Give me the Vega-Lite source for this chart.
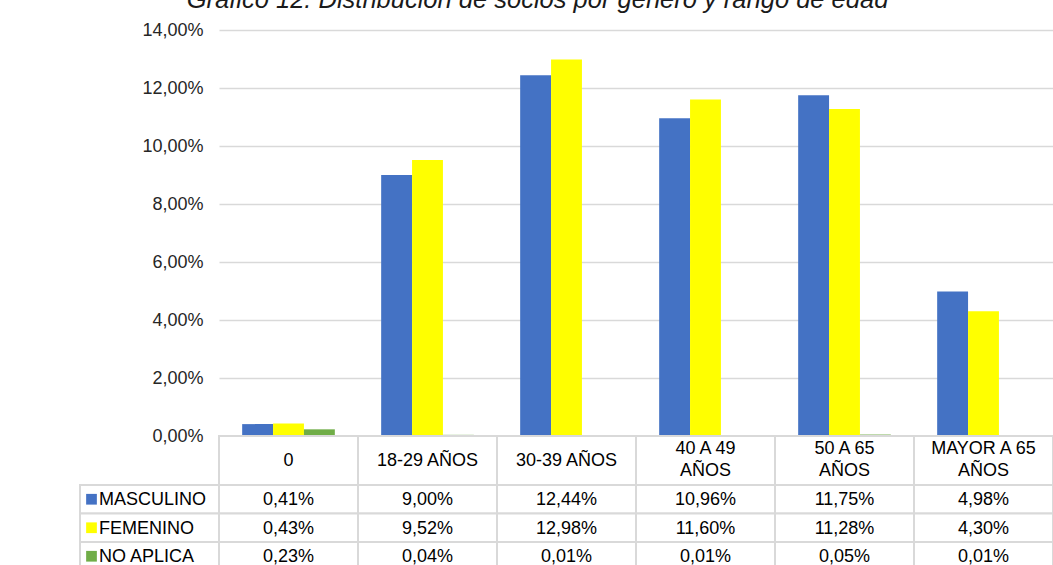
{
  "$schema": "https://vega.github.io/schema/vega-lite/v6.json",
  "padding": {"left": 79, "top": -13, "right": 0, "bottom": -5.5},
  "background": "white",
  "spacing": 0,
  "bounds": "flush",
  "config": {
    "locale": {"number": {"decimal": ",", "thousands": ".", "grouping": [3], "currency": ["", " €"]}},
    "view": {"stroke": null},
    "font": "Liberation Sans",
    "concat": {"spacing": 0}
  },
  "title": {
    "text": "Gráfico 12. Distribución de socios por género y rango de edad",
    "font": "Liberation Sans",
    "fontSize": 25.5,
    "fontStyle": "italic",
    "fontWeight": "normal",
    "color": "#1a1a1a",
    "anchor": "middle",
    "dx": -29,
    "offset": 8
  },
  "datasets": {
    "datos": [
      {"rango": "0", "etiqueta": "0", "genero": "MASCULINO", "valor": 0.0041},
      {"rango": "0", "etiqueta": "0", "genero": "FEMENINO", "valor": 0.0043},
      {"rango": "0", "etiqueta": "0", "genero": "NO APLICA", "valor": 0.0023},
      {"rango": "18-29 AÑOS", "etiqueta": "18-29 AÑOS", "genero": "MASCULINO", "valor": 0.09},
      {"rango": "18-29 AÑOS", "etiqueta": "18-29 AÑOS", "genero": "FEMENINO", "valor": 0.0952},
      {"rango": "18-29 AÑOS", "etiqueta": "18-29 AÑOS", "genero": "NO APLICA", "valor": 0.0004},
      {"rango": "30-39 AÑOS", "etiqueta": "30-39 AÑOS", "genero": "MASCULINO", "valor": 0.1244},
      {"rango": "30-39 AÑOS", "etiqueta": "30-39 AÑOS", "genero": "FEMENINO", "valor": 0.1298},
      {"rango": "30-39 AÑOS", "etiqueta": "30-39 AÑOS", "genero": "NO APLICA", "valor": 0.0001},
      {"rango": "40 A 49 AÑOS", "etiqueta": "40 A 49\nAÑOS", "genero": "MASCULINO", "valor": 0.1096},
      {"rango": "40 A 49 AÑOS", "etiqueta": "40 A 49\nAÑOS", "genero": "FEMENINO", "valor": 0.116},
      {"rango": "40 A 49 AÑOS", "etiqueta": "40 A 49\nAÑOS", "genero": "NO APLICA", "valor": 0.0001},
      {"rango": "50 A 65 AÑOS", "etiqueta": "50 A 65\nAÑOS", "genero": "MASCULINO", "valor": 0.1175},
      {"rango": "50 A 65 AÑOS", "etiqueta": "50 A 65\nAÑOS", "genero": "FEMENINO", "valor": 0.1128},
      {"rango": "50 A 65 AÑOS", "etiqueta": "50 A 65\nAÑOS", "genero": "NO APLICA", "valor": 0.0005},
      {"rango": "MAYOR A 65 AÑOS", "etiqueta": "MAYOR A 65\nAÑOS", "genero": "MASCULINO", "valor": 0.0498},
      {"rango": "MAYOR A 65 AÑOS", "etiqueta": "MAYOR A 65\nAÑOS", "genero": "FEMENINO", "valor": 0.043},
      {"rango": "MAYOR A 65 AÑOS", "etiqueta": "MAYOR A 65\nAÑOS", "genero": "NO APLICA", "valor": 0.0001}
    ],
    "series": [
      {"genero": "MASCULINO"},
      {"genero": "FEMENINO"},
      {"genero": "NO APLICA"}
    ]
  },
  "vconcat": [
    {
      "width": 834,
      "height": 406,
      "data": {"name": "datos"},
      "mark": {"type": "bar"},
      "encoding": {
        "x": {
          "field": "rango", "type": "nominal", "sort": null,
          "scale": {"paddingInner": 0, "paddingOuter": 0},
          "axis": null
        },
        "xOffset": {
          "field": "genero", "type": "nominal",
          "scale": {"domain": ["MASCULINO", "FEMENINO", "NO APLICA"], "paddingInner": 0, "paddingOuter": 0.75}
        },
        "y": {
          "field": "valor", "type": "quantitative",
          "scale": {"domain": [0, 0.14], "nice": false},
          "axis": {
            "values": [0, 0.02, 0.04, 0.06, 0.08, 0.1, 0.12, 0.14],
            "format": ".2%",
            "title": null,
            "domain": false,
            "ticks": false,
            "labelPadding": 16,
            "labelFontSize": 18,
            "labelColor": "#262626",
            "labelFont": "Liberation Sans",
            "gridColor": "#d9d9d9",
            "gridWidth": 1.5
          }
        },
        "color": {
          "field": "genero", "type": "nominal",
          "scale": {"domain": ["MASCULINO", "FEMENINO", "NO APLICA"], "range": ["#4472C4", "#FFFF00", "#70AD47"]},
          "legend": null
        }
      }
    },
    {
      "width": 834,
      "height": 49,
      "data": {"name": "datos"},
      "transform": [{"filter": "datum.genero === 'MASCULINO'"}],
      "encoding": {
        "x": {
          "field": "rango", "type": "nominal", "sort": null,
          "scale": {"paddingInner": 0, "paddingOuter": 0},
          "axis": null
        }
      },
      "layer": [
        {"mark": {"type": "rect", "fill": "white", "stroke": "#d9d9d9", "strokeWidth": 2}},
        {
          "transform": [{"filter": "indexof(datum.etiqueta, '\\n') < 0"}],
          "mark": {"type": "text", "fontSize": 18, "color": "#000000", "baseline": "middle", "align": "center"},
          "encoding": {"text": {"field": "etiqueta"}}
        },
        {
          "transform": [{"filter": "indexof(datum.etiqueta, '\\n') >= 0"}],
          "mark": {"type": "text", "fontSize": 18, "color": "#000000", "lineBreak": "\n", "baseline": "middle", "align": "center", "lineHeight": 22, "dy": -12},
          "encoding": {"text": {"field": "etiqueta"}}
        }
      ]
    },
    {
      "width": 834,
      "height": 85.5,
      "encoding": {
        "x": {
          "type": "nominal",
          "scale": {
            "domain": ["LEYENDA", "0", "18-29 AÑOS", "30-39 AÑOS", "40 A 49 AÑOS", "50 A 65 AÑOS", "MAYOR A 65 AÑOS"],
            "range": [-139, 834],
            "paddingInner": 0, "paddingOuter": 0
          },
          "axis": null
        },
        "y": {
          "field": "genero", "type": "nominal",
          "scale": {"domain": ["MASCULINO", "FEMENINO", "NO APLICA"], "paddingInner": 0, "paddingOuter": 0},
          "axis": null
        }
      },
      "layer": [
        {
          "data": {"name": "datos"},
          "mark": {"type": "rect", "fill": "white", "stroke": "#d9d9d9", "strokeWidth": 2},
          "encoding": {
            "x": {"field": "rango", "type": "nominal"}
          }
        },
        {
          "data": {"name": "datos"},
          "mark": {"type": "text", "fontSize": 18, "color": "#000000", "baseline": "middle", "align": "center", "dy": 1},
          "encoding": {
            "x": {"field": "rango", "type": "nominal"},
            "text": {"field": "valor", "type": "quantitative", "format": ".2%"}
          }
        },
        {
          "data": {"name": "series"},
          "mark": {"type": "rect", "fill": "white", "stroke": "#d9d9d9", "strokeWidth": 2},
          "encoding": {
            "x": {"datum": "LEYENDA", "type": "nominal"}
          }
        },
        {
          "data": {"name": "series"},
          "mark": {"type": "square", "size": 115, "opacity": 1, "filled": true, "xOffset": 11.5},
          "encoding": {
            "x": {"datum": "LEYENDA", "type": "nominal", "bandPosition": 0},
            "color": {
              "field": "genero", "type": "nominal",
              "scale": {"domain": ["MASCULINO", "FEMENINO", "NO APLICA"], "range": ["#4472C4", "#FFFF00", "#70AD47"]},
              "legend": null
            }
          }
        },
        {
          "data": {"name": "series"},
          "mark": {"type": "text", "fontSize": 18, "color": "#000000", "baseline": "middle", "align": "left", "dx": 19, "dy": 1},
          "encoding": {
            "x": {"datum": "LEYENDA", "type": "nominal", "bandPosition": 0},
            "text": {"field": "genero"}
          }
        }
      ]
    }
  ]
}
